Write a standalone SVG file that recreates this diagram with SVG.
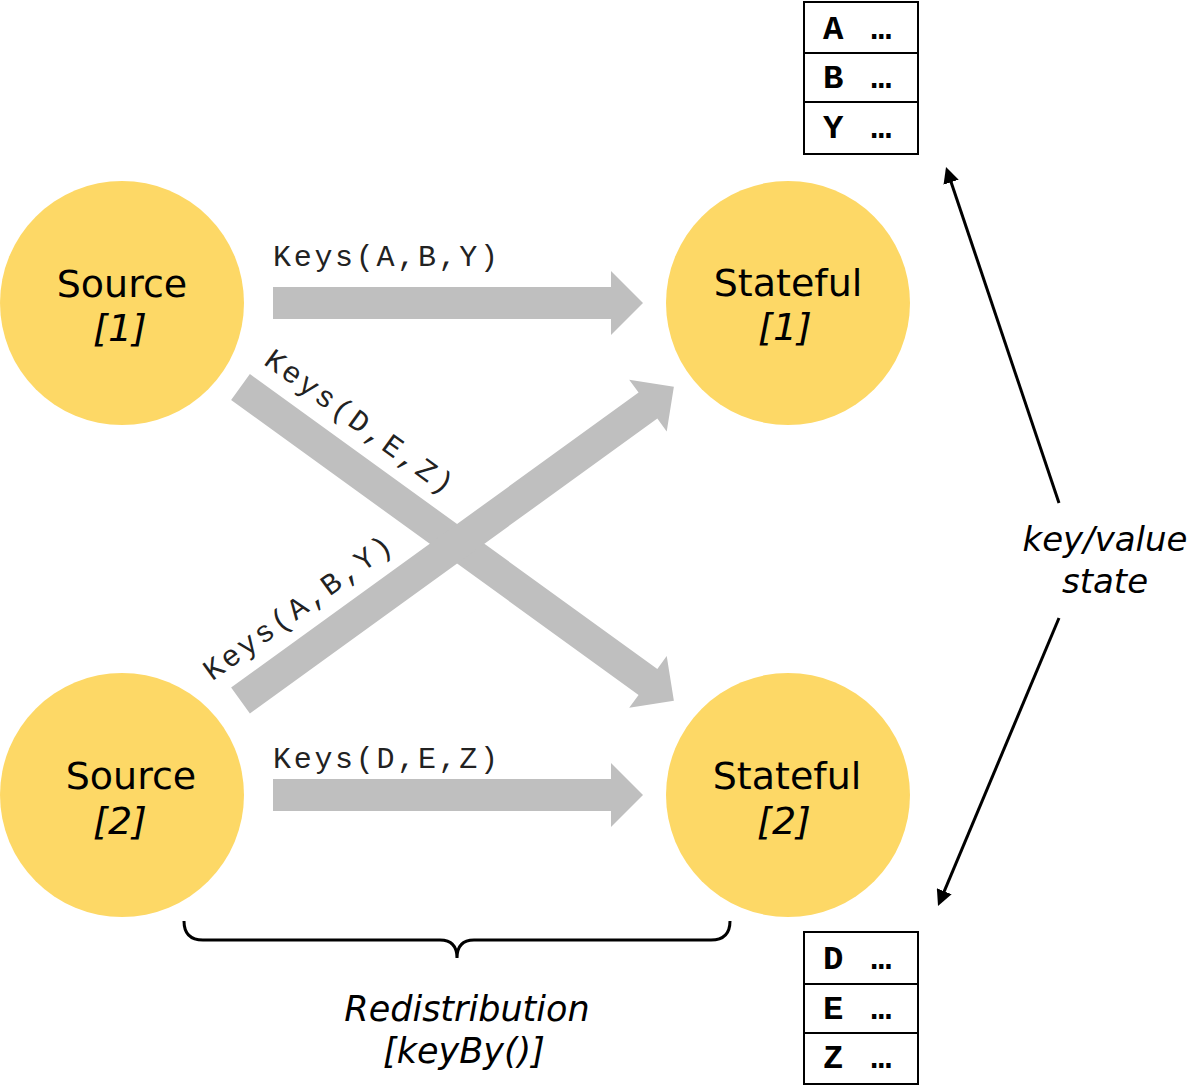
<svg xmlns="http://www.w3.org/2000/svg" width="1194" height="1087" viewBox="0 0 1194 1087">
<style>
.node{fill:#fdd866}
.nt{font-family:"DejaVu Sans",sans-serif;font-size:38px;fill:#000;text-anchor:middle}
.it{font-style:italic}
.lbl{font-family:"Liberation Mono","Courier New",monospace;font-size:30px;letter-spacing:2.7px;fill:#222}
.fat{fill:#bfbfbf}
.tbl{fill:#fff;stroke:#000;stroke-width:2}
.row{stroke:#000;stroke-width:2}
.cell{font-family:"Liberation Mono","Courier New",monospace;font-weight:bold;font-size:34px;fill:#000}
.ann{font-family:"DejaVu Sans",sans-serif;font-style:italic;font-size:34px;fill:#000;text-anchor:middle}
.thin{stroke:#000;stroke-width:3;fill:none}
</style>
<defs>
<marker id="ah" viewBox="0 0 16 16" markerWidth="16" markerHeight="16" refX="6" refY="8" orient="auto" markerUnits="userSpaceOnUse">
<path d="M0,0 L16,8 L0,16 Z" fill="#000"/>
</marker>
<path id="fat370" d="M0,-16 H338 V-32 L370,0 L338,32 V16 H0 Z"/>
<path id="fat535" d="M0,-16 H503 V-32 L535,0 L503,32 V16 H0 Z"/>
</defs>
<rect width="1194" height="1087" fill="#fff"/>

<g id="connectors">
<use href="#fat370" class="fat" transform="translate(273,303)"/>
<use href="#fat370" class="fat" transform="translate(273,795)"/>
<use href="#fat535" class="fat" transform="translate(240.5,387) rotate(35.9)"/>
<use href="#fat535" class="fat" transform="translate(240.5,700.5) rotate(-35.9)"/>
<text class="lbl" x="273" y="266">Keys(A,B,Y)</text>
<text class="lbl" x="273" y="768">Keys(D,E,Z)</text>
<text class="lbl" transform="translate(240.5,387) rotate(35.9)" x="4" y="-32">Keys(D,E,Z)</text>
<text class="lbl" transform="translate(240.5,700.5) rotate(-35.9)" x="-12" y="-32">Keys(A,B,Y)</text>
<line class="thin" x1="1059" y1="503" x2="949.2" y2="176.5" marker-end="url(#ah)"/>
<line class="thin" x1="1059" y1="618" x2="941.9" y2="896.8" marker-end="url(#ah)"/>
<path class="thin" d="M184,921 Q184,940 203,940 L440,940 Q457,940 457,958 Q457,940 474,940 L711,940 Q730,940 730,921"/>
</g>

<g id="source1">
<circle class="node" cx="122" cy="303" r="122"/>
<text class="nt" x="122" y="297">Source</text>
<text class="nt it" x="120" y="341">[1]</text>
</g>
<g id="source2">
<circle class="node" cx="122" cy="795" r="122"/>
<text class="nt" x="131" y="789">Source</text>
<text class="nt it" x="120" y="834">[2]</text>
</g>
<g id="stateful1">
<circle class="node" cx="788" cy="303" r="122"/>
<text class="nt" x="788" y="296">Stateful</text>
<text class="nt it" x="785" y="340">[1]</text>
</g>
<g id="stateful2">
<circle class="node" cx="788" cy="795" r="122"/>
<text class="nt" x="787" y="789">Stateful</text>
<text class="nt it" x="784" y="834">[2]</text>
</g>

<g id="state1">
<rect class="tbl" x="804" y="2" width="114" height="152"/>
<line class="row" x1="804" y1="53" x2="918" y2="53"/>
<line class="row" x1="804" y1="102" x2="918" y2="102"/>
<text class="cell" x="823" y="39">A</text><text class="cell" x="871" y="39">…</text>
<text class="cell" x="823" y="88">B</text><text class="cell" x="871" y="88">…</text>
<text class="cell" x="823" y="138">Y</text><text class="cell" x="871" y="138">…</text>
</g>
<g id="state2">
<rect class="tbl" x="804" y="932" width="114" height="152"/>
<line class="row" x1="804" y1="984" x2="918" y2="984"/>
<line class="row" x1="804" y1="1033" x2="918" y2="1033"/>
<text class="cell" x="823" y="969">D</text><text class="cell" x="871" y="969">…</text>
<text class="cell" x="823" y="1019">E</text><text class="cell" x="871" y="1019">…</text>
<text class="cell" x="823" y="1068">Z</text><text class="cell" x="871" y="1068">…</text>
</g>

<g id="kvlabel">
<text class="ann" x="1105" y="551">key/value</text>
<text class="ann" x="1105" y="593">state</text>
</g>
<g id="redistlabel">
<text class="ann" x="467" y="1021" style="font-size:35px">Redistribution</text>
<text class="ann" x="464" y="1063" style="font-size:35px">[keyBy()]</text>
</g>
</svg>
